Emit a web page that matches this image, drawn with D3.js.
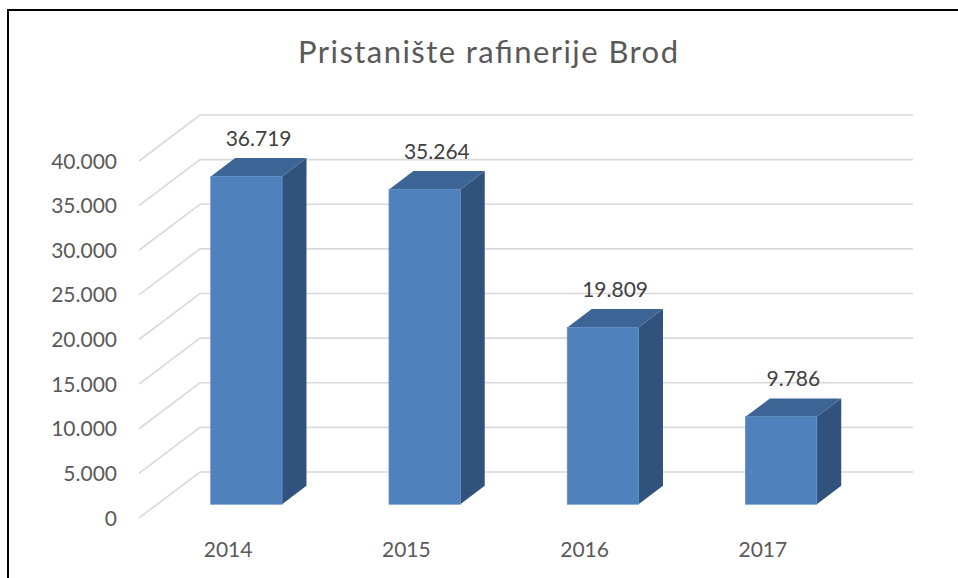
<!DOCTYPE html>
<html>
<head>
<meta charset="utf-8">
<script src="https://cdn.jsdelivr.net/npm/d3@7"></script>
<style>
    body { margin: 0; background: #fff; }
    svg text { font-family: Lato, "Open Sans", sans-serif; }
</style>
</head>
<body>
<svg id="chart" width="958" height="578"></svg>
<script>
const categories = ["2014", "2015", "2016", "2017"];
const values = [36719, 35264, 19809, 9786];
const yTicks = [0, 5000, 10000, 15000, 20000, 25000, 30000, 35000, 40000];

const svg = d3.select("#chart");

// floor front edge and the depth vector of the 3d box
const margin = { left: 139, right: 852, bottom: 518, top: 161 };
const depth = { dx: 61, dy: -46 };
const barZ = [0.3, 0.7];

const fmt = d3.formatLocale({ decimal: ",", thousands: ".", grouping: [3], currency: ["", ""] }).format(",d");

const x = d3.scaleBand()
    .domain(categories)
    .range([margin.left, margin.right])
    .paddingInner(0.6)
    .paddingOuter(0.3);

const y = d3.scaleLinear()
    .domain([0, 40000])
    .range([margin.bottom, margin.top]);

const proj = (px, v, z) => [px + z * depth.dx, y(v) + z * depth.dy];

// chart border
svg.append("rect")
    .attr("x", 8)
    .attr("y", 10)
    .attr("width", 1000)
    .attr("height", 700)
    .attr("fill", "none")
    .attr("stroke", "#000")
    .attr("stroke-width", 2);

// title
svg.append("text")
    .attr("x", 488)
    .attr("y", 63)
    .attr("text-anchor", "middle")
    .attr("font-size", "31px")
    .attr("textLength", 380)
    .attr("lengthAdjust", "spacing")
    .attr("fill", "#595959")
    .text("Pristanište rafinerije Brod");

// gridlines: side wall diagonal + back wall line
const grid = svg.append("g");
yTicks.forEach(v => {
    const a = proj(margin.left, v, 0);
    const b = proj(margin.left, v, 1);
    const c = proj(margin.right, v, 1);
    grid.append("path")
        .attr("d", d3.line()([a, b, c]))
        .attr("fill", "none")
        .attr("stroke", "#d9d9d9")
        .attr("stroke-width", 1.6);
});

// y tick labels
svg.append("g")
    .selectAll("text")
    .data(yTicks)
    .join("text")
    .attr("x", 117)
    .attr("y", d => y(d) + 7.5)
    .attr("text-anchor", "end")
    .attr("font-size", "21px")
    .attr("fill", "#595959")
    .text(d => fmt(d));

// bars
const bw = x.bandwidth();
const bars = svg.append("g")
    .selectAll("g")
    .data(categories.map((c, i) => ({ c, v: values[i] })))
    .join("g");

bars.each(function (d) {
    const g = d3.select(this);
    const x0 = x(d.c), x1 = x(d.c) + bw;
    const [z0, z1] = barZ;
    const poly = pts => d3.line()(pts) + "Z";

    // side face
    g.append("path")
        .attr("d", poly([proj(x1, 0, z0), proj(x1, 0, z1), proj(x1, d.v, z1), proj(x1, d.v, z0)]))
        .attr("fill", "#31527c");
    // top face
    g.append("path")
        .attr("d", poly([proj(x0, d.v, z0), proj(x1, d.v, z0), proj(x1, d.v, z1), proj(x0, d.v, z1)]))
        .attr("fill", "#3c6494");
    // front face
    const f0 = proj(x0, d.v, z0), f1 = proj(x1, 0, z0);
    g.append("rect")
        .attr("x", f0[0])
        .attr("y", f0[1])
        .attr("width", f1[0] - f0[0])
        .attr("height", f1[1] - f0[1])
        .attr("fill", "#4f81bd")
        .attr("stroke", "#5b8cc6")
        .attr("stroke-width", 0.8);

    // data label
    const top = proj(x0 + bw / 2, d.v, 0.5);
    g.append("text")
        .attr("x", top[0])
        .attr("y", proj(x0, d.v, z1)[1] - 12)
        .attr("text-anchor", "middle")
        .attr("font-size", "21px")
        .attr("fill", "#404040")
        .text(fmt(d.v));
});

// category labels
svg.append("g")
    .selectAll("text")
    .data(categories)
    .join("text")
    .attr("x", d => x(d) + bw / 2)
    .attr("y", 557)
    .attr("text-anchor", "middle")
    .attr("font-size", "21px")
    .attr("fill", "#595959")
    .text(d => d);
</script>
</body>
</html>
